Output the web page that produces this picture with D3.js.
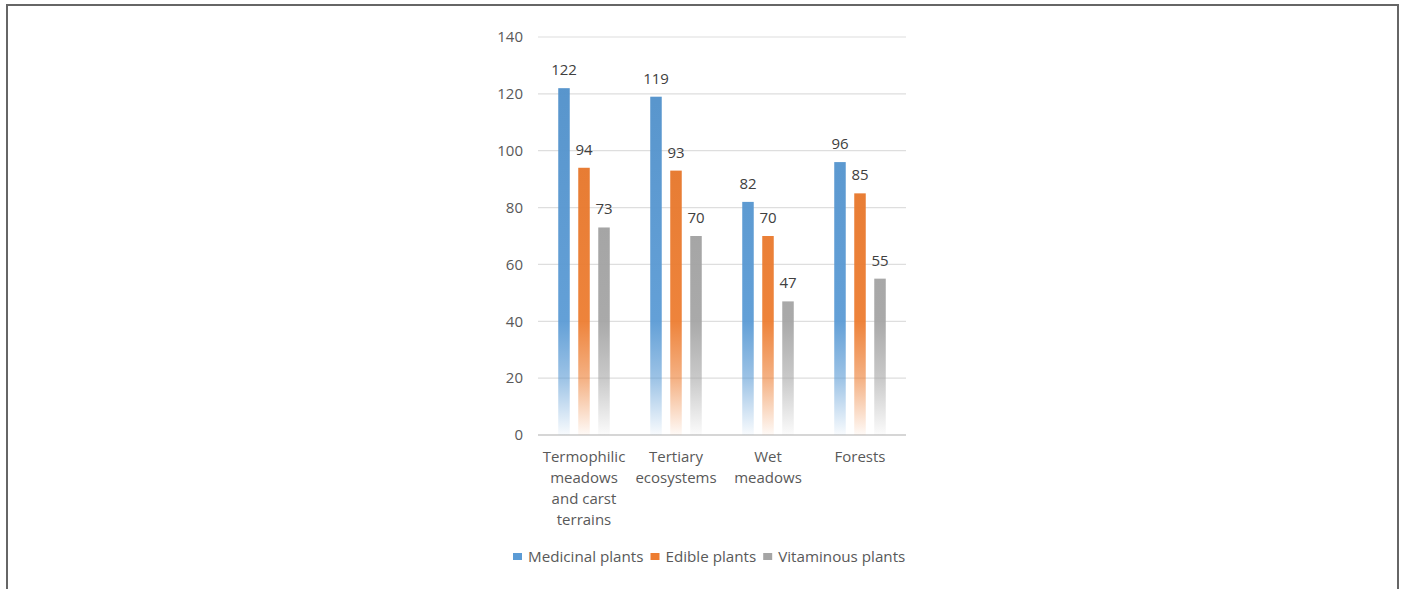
<!DOCTYPE html>
<html>
<head>
<meta charset="utf-8">
<script src="https://cdn.jsdelivr.net/npm/d3@7"></script>
<style>
  html, body { margin: 0; padding: 0; background: #fff; }
  svg { display: block; }
  text { font-family: "Open Sans", "Liberation Sans", sans-serif; }
</style>
</head>
<body>
<svg id="chart" width="1404" height="589"></svg>
<script>
// Plant counts by habitat type
const categories = [
  ["Termophilic", "meadows", "and carst", "terrains"],
  ["Tertiary", "ecosystems"],
  ["Wet", "meadows"],
  ["Forests"]
];
const seriesNames = ["Medicinal plants", "Edible plants", "Vitaminous plants"];
const medicinal = [122, 119, 82, 96];
const edible = [94, 93, 70, 85];
const vitaminous = [73, 70, 47, 55];
const yTicks = [0, 20, 40, 60, 80, 100, 120, 140];

const colors = ["#5B9BD5", "#ED7D31", "#A5A5A5"];
const values = [medicinal, edible, vitaminous];

const svg = d3.select("#chart");

// outer frame
svg.append("rect")
  .attr("x", 7).attr("y", 5)
  .attr("width", 1391).attr("height", 620)
  .attr("fill", "none")
  .attr("stroke", "#666")
  .attr("stroke-width", 2);

const plot = { left: 538, right: 906, top: 37, bottom: 435 };

const y = d3.scaleLinear().domain([0, 140]).range([plot.bottom, plot.top]);
const x0 = d3.scaleBand()
  .domain(d3.range(categories.length))
  .range([plot.left, plot.right])
  .paddingInner(0.44).paddingOuter(0.22);
const x1 = d3.scaleBand()
  .domain(d3.range(seriesNames.length))
  .range([0, x0.bandwidth()])
  .paddingInner(0.425);

// gradients fading toward the baseline
const defs = svg.append("defs");
colors.forEach((c, i) => {
  const g = defs.append("linearGradient")
    .attr("id", "grad" + i)
    .attr("gradientUnits", "userSpaceOnUse")
    .attr("x1", 0).attr("x2", 0)
    .attr("y1", y(140)).attr("y2", y(0));
  const darker = d3.color(c).darker(0.15);
  g.append("stop").attr("offset", 0).attr("stop-color", darker);
  g.append("stop").attr("offset", (y(40) - y(140)) / (y(0) - y(140))).attr("stop-color", c).attr("stop-opacity", 0.95);
  g.append("stop").attr("offset", (y(20) - y(140)) / (y(0) - y(140))).attr("stop-color", c).attr("stop-opacity", 0.6);
  g.append("stop").attr("offset", 1).attr("stop-color", c).attr("stop-opacity", 0.04);
});

// gridlines
svg.append("g")
  .selectAll("line")
  .data(yTicks)
  .join("line")
  .attr("x1", plot.left).attr("x2", plot.right)
  .attr("y1", d => y(d)).attr("y2", d => y(d))
  .attr("stroke", d => d === 0 ? "#c8c8c8" : "#dedede")
  .attr("stroke-width", d => d === 0 ? 1.5 : 1.2);

// y axis labels
const yAxis = d3.axisLeft(y).tickValues(yTicks).tickSize(0).tickPadding(15);
const ya = svg.append("g").attr("transform", `translate(${plot.left},0)`).call(yAxis);
ya.select(".domain").remove();
ya.selectAll("text")
  .attr("font-size", 15)
  .attr("fill", "#595959")
  .style("font-family", "'Open Sans', sans-serif");

// bars
const groups = svg.append("g")
  .selectAll("g")
  .data(categories.map((c, i) => i))
  .join("g")
  .attr("transform", i => `translate(${x0(i)},0)`);

groups.selectAll("rect")
  .data(i => values.map((v, s) => ({ s, v: v[i] })))
  .join("rect")
  .attr("x", d => x1(d.s))
  .attr("width", x1.bandwidth())
  .attr("y", d => y(d.v))
  .attr("height", d => y(0) - y(d.v))
  .attr("fill", d => `url(#grad${d.s})`);

// value labels
groups.selectAll("text.val")
  .data(i => values.map((v, s) => ({ s, v: v[i] })))
  .join("text")
  .attr("class", "val")
  .attr("x", d => x1(d.s) + x1.bandwidth() / 2)
  .attr("y", d => y(d.v) - 13)
  .attr("text-anchor", "middle")
  .attr("font-size", 15)
  .attr("fill", "#404040")
  .text(d => d.v);

// category labels
const xl = svg.append("g")
  .selectAll("text")
  .data(categories.map((c, i) => ({ c, i })))
  .join("text")
  .attr("text-anchor", "middle")
  .attr("font-size", 15)
  .attr("fill", "#595959")
  .attr("x", d => x0(d.i) + x0.bandwidth() / 2)
  .attr("y", 462);
xl.selectAll("tspan")
  .data(d => d.c.map(line => ({ line, x: x0(d.i) + x0.bandwidth() / 2 })))
  .join("tspan")
  .attr("x", d => d.x)
  .attr("dy", (d, k) => k === 0 ? 0 : 21)
  .text(d => d.line);

// legend: square, label, then the next entry after a small gap
const legend = svg.append("g").attr("transform", "translate(513,557)");
let cursor = 0;
seriesNames.forEach((name, i) => {
  const g = legend.append("g").attr("transform", `translate(${cursor},0)`);
  g.append("rect").attr("x", 0).attr("y", -4).attr("width", 9).attr("height", 7).attr("fill", colors[i]);
  const t = g.append("text").attr("x", 15).attr("y", 5)
    .attr("font-size", 15.2).attr("fill", "#595959").text(name);
  cursor += 15 + t.node().getComputedTextLength() + 7;
});
</script>
</body>
</html>
